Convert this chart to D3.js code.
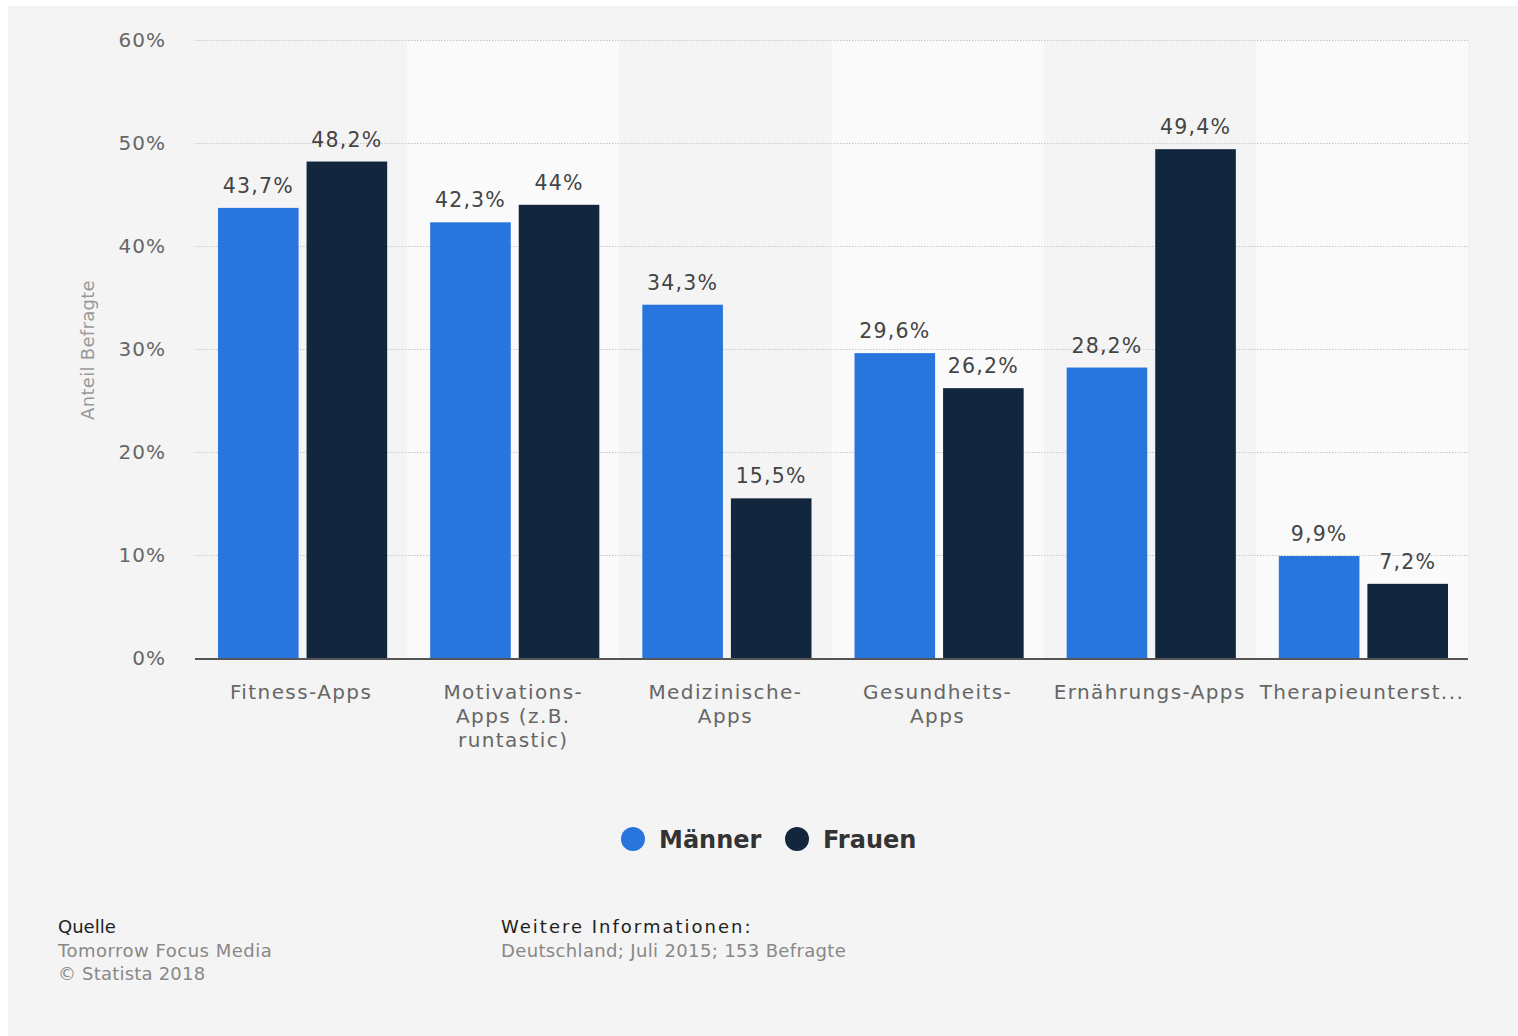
<!DOCTYPE html>
<html>
<head>
<meta charset="utf-8">
<script src="https://cdn.jsdelivr.net/npm/d3@7"></script>
<style>
  body { margin: 0; background: #fff; font-family: "DejaVu Sans", sans-serif; }
</style>
</head>
<body>
<div id="chart"></div>
<script>
const categories = [
    ['Fitness-Apps'],
    ['Motivations-', 'Apps (z.B.', 'runtastic)'],
    ['Medizinische-', 'Apps'],
    ['Gesundheits-', 'Apps'],
    ['Ernährungs-Apps'],
    ['Therapieunterst...']
];
const maenner = [43.7, 42.3, 34.3, 29.6, 28.2, 9.9];
const frauen = [48.2, 44, 15.5, 26.2, 49.4, 7.2];
const seriesNames = ['Männer', 'Frauen'];
const yTicks = [0, 10, 20, 30, 40, 50, 60];

const colors = ['#2876dd', '#12263e'];
const W = 1518, H = 1036;
const plot = {left: 195, right: 1468, top: 40, bottom: 658};

const svg = d3.select('#chart').append('svg').attr('width', W).attr('height', H);
svg.append('rect').attr('x', 8).attr('y', 6).attr('width', W - 8).attr('height', H - 6).attr('fill', '#f4f4f4');

const idx = d3.range(categories.length);
const x = d3.scaleBand().domain(idx).range([plot.left, plot.right]);
const xs = d3.scaleBand().domain([0, 1]).range([23, x.bandwidth() - 20]).paddingInner(0.09);
const y = d3.scaleLinear().domain([0, 60]).range([plot.bottom, plot.top]);

// alternating band backgrounds
svg.selectAll('.band').data(idx.filter(i => i % 2 === 1)).enter().append('rect')
    .attr('x', i => x(i)).attr('y', plot.top).attr('width', x.bandwidth())
    .attr('height', plot.bottom - plot.top).attr('fill', '#fafafa');

// grid
svg.append('g').selectAll('line').data(yTicks.filter(d => d > 0)).enter().append('line')
    .attr('x1', plot.left).attr('x2', plot.right)
    .attr('y1', d => y(d) + 0.5).attr('y2', d => y(d) + 0.5)
    .attr('stroke', '#c8c8c8').attr('stroke-width', 1).attr('stroke-dasharray', '1.5,1.5');

// y labels
svg.append('g').selectAll('text').data(yTicks).enter().append('text')
    .attr('x', 166).attr('y', d => y(d) + 7).attr('text-anchor', 'end')
    .style('font-size', '20px').style('letter-spacing', '1px').style('fill', '#666').text(d => d + '%');

svg.append('text').attr('transform', `translate(94,350) rotate(-90)`)
    .attr('text-anchor', 'middle').style('font-size', '18px').style('letter-spacing', '0.3px')
    .style('fill', '#999').text('Anteil Befragte');

const fmt = v => String(v).replace('.', ',') + '%';
const data = [maenner, frauen];

data.forEach((vals, s) => {
    const g = svg.append('g');
    g.selectAll('rect').data(vals).enter().append('rect')
        .attr('x', (d, i) => x(i) + xs(s)).attr('y', d => y(d))
        .attr('width', xs.bandwidth()).attr('height', d => y(0) - y(d))
        .attr('fill', colors[s]);
    g.selectAll('text').data(vals).enter().append('text')
        .attr('x', (d, i) => x(i) + xs(s) + xs.bandwidth() / 2).attr('y', d => y(d) - 15)
        .attr('text-anchor', 'middle').style('font-size', '20.5px').style('letter-spacing', '1.2px')
        .style('fill', '#444').text(fmt);
});

// baseline
svg.append('line').attr('x1', plot.left).attr('x2', plot.right)
    .attr('y1', y(0) + 1).attr('y2', y(0) + 1).attr('stroke', '#555').attr('stroke-width', 2);

// x labels
const xl = svg.append('g').selectAll('text').data(categories).enter().append('text')
    .attr('text-anchor', 'middle').style('font-size', '20px').style('letter-spacing', '1.4px')
    .style('fill', '#666')
    .attr('x', (d, i) => x(i) + x.bandwidth() / 2).attr('y', 699);
xl.selectAll('tspan').data(d => d).enter().append('tspan')
    .attr('x', function() { return this.parentNode.getAttribute('x'); })
    .attr('dy', (d, j) => j === 0 ? 0 : 24).text(d => d);

// legend
const legX = [633, 797];
seriesNames.forEach((n, s) => {
    svg.append('circle').attr('cx', legX[s]).attr('cy', 839).attr('r', 12).attr('fill', colors[s]);
    svg.append('text').attr('x', legX[s] + 26).attr('y', 848).style('font-size', '24px')
        .style('font-weight', 'bold').style('fill', '#333').text(n);
});

// footer
const foot = [
    {x: 58, y: 933, t: 'Quelle', c: '#222', ls: 0},
    {x: 58, y: 957, t: 'Tomorrow Focus Media', c: '#888', ls: 0.5},
    {x: 58, y: 980, t: '© Statista 2018', c: '#888', ls: 0.2},
    {x: 501, y: 933, t: 'Weitere Informationen:', c: '#222', ls: 2},
    {x: 501, y: 957, t: 'Deutschland; Juli 2015; 153 Befragte', c: '#888', ls: 0.35}
];
svg.append('g').selectAll('text').data(foot).enter().append('text')
    .attr('x', d => d.x).attr('y', d => d.y).style('font-size', '18px')
    .style('letter-spacing', d => d.ls + 'px')
    .style('fill', d => d.c).text(d => d.t);
</script>
</body>
</html>
